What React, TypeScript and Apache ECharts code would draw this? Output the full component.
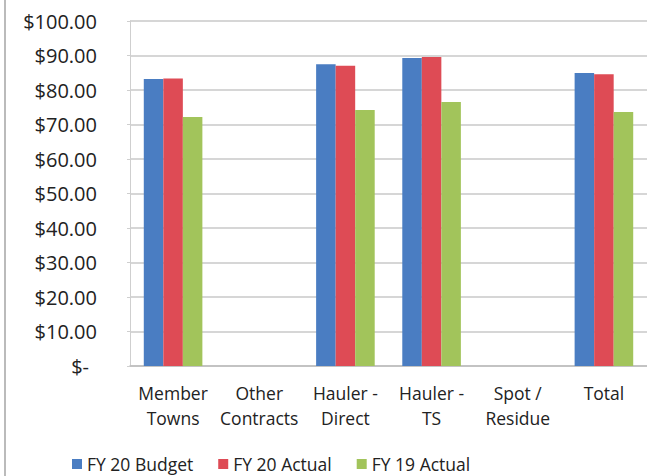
import React, { useEffect, useRef } from "react";
import * as echarts from "echarts";

const categories = [
  "Member\nTowns",
  "Other\nContracts",
  "Hauler -\nDirect",
  "Hauler -\nTS",
  "Spot /\nResidue",
  "Total",
];
const seriesNames = ["FY 20 Budget", "FY 20 Actual", "FY 19 Actual"];
const fy20Budget = [83.2, null, 87.5, 89.3, null, 84.9];
const fy20Actual = [83.3, null, 87.0, 89.6, null, 84.6];
const fy19Actual = [72.2, null, 74.2, 76.5, null, 73.6];
const colors = ["#4A7DC2", "#DE4B55", "#A2C45B"];

const FONT = "'Open Sans', 'Noto Sans', sans-serif";

export default function App() {
  const ref = useRef<HTMLDivElement>(null);
  useEffect(() => {
    if (!ref.current) return;
    const chart = echarts.init(ref.current, null, { renderer: "svg" });
    const values = [fy20Budget, fy20Actual, fy19Actual];
    chart.setOption({
      animation: false,
      backgroundColor: "#ffffff",
      textStyle: { fontFamily: FONT },
      grid: { left: 130, top: 21, width: 518, height: 345 },
      legend: {
        left: 67,
        top: 450,
        icon: "rect",
        itemWidth: 10,
        itemHeight: 10,
        itemGap: 25,
        textStyle: { fontSize: 17.5, color: "#222", fontFamily: FONT },
        data: seriesNames,
      },
      xAxis: {
        type: "category",
        data: categories,
        axisLine: { show: true, lineStyle: { color: "#bdbdbd", width: 1.5 } },
        axisTick: { show: false },
        axisLabel: {
          interval: 0,
          color: "#222",
          fontSize: 17.5,
          lineHeight: 25,
          margin: 14,
          fontFamily: FONT,
        },
        splitLine: { show: false },
      },
      yAxis: {
        type: "value",
        min: 0,
        max: 100,
        interval: 10,
        axisLine: { show: true, lineStyle: { color: "#cfcfcf" } },
        axisTick: { show: true, length: 3, lineStyle: { color: "#cfcfcf" } },
        splitLine: { show: true, lineStyle: { color: "#c8c8c8", width: 1.5 } },
        axisLabel: {
          color: "#222",
          fontSize: 20,
          margin: 33,
          fontFamily: FONT,
          formatter: (v: number) => (v === 0 ? "{z|$-}" : "$" + v.toFixed(2)),
          rich: {
            z: {
              fontSize: 20,
              color: "#222",
              fontFamily: FONT,
              padding: [0, 8, 0, 0],
            },
          },
        },
      },
      series: seriesNames.map((name, i) => ({
        name,
        type: "bar",
        data: values[i],
        barGap: "0%",
        barCategoryGap: "32%",
        itemStyle: { color: colors[i] },
      })),
      graphic: [
        {
          type: "line",
          shape: { x1: 5, y1: 0, x2: 5, y2: 476 },
          style: { stroke: "#bbbbbb", lineWidth: 2 },
        },
      ],
    });
    return () => chart.dispose();
  }, []);
  return (
    <div
      ref={ref}
      style={{ position: "fixed", left: 0, top: 0, width: 647, height: 476 }}
    />
  );
}
